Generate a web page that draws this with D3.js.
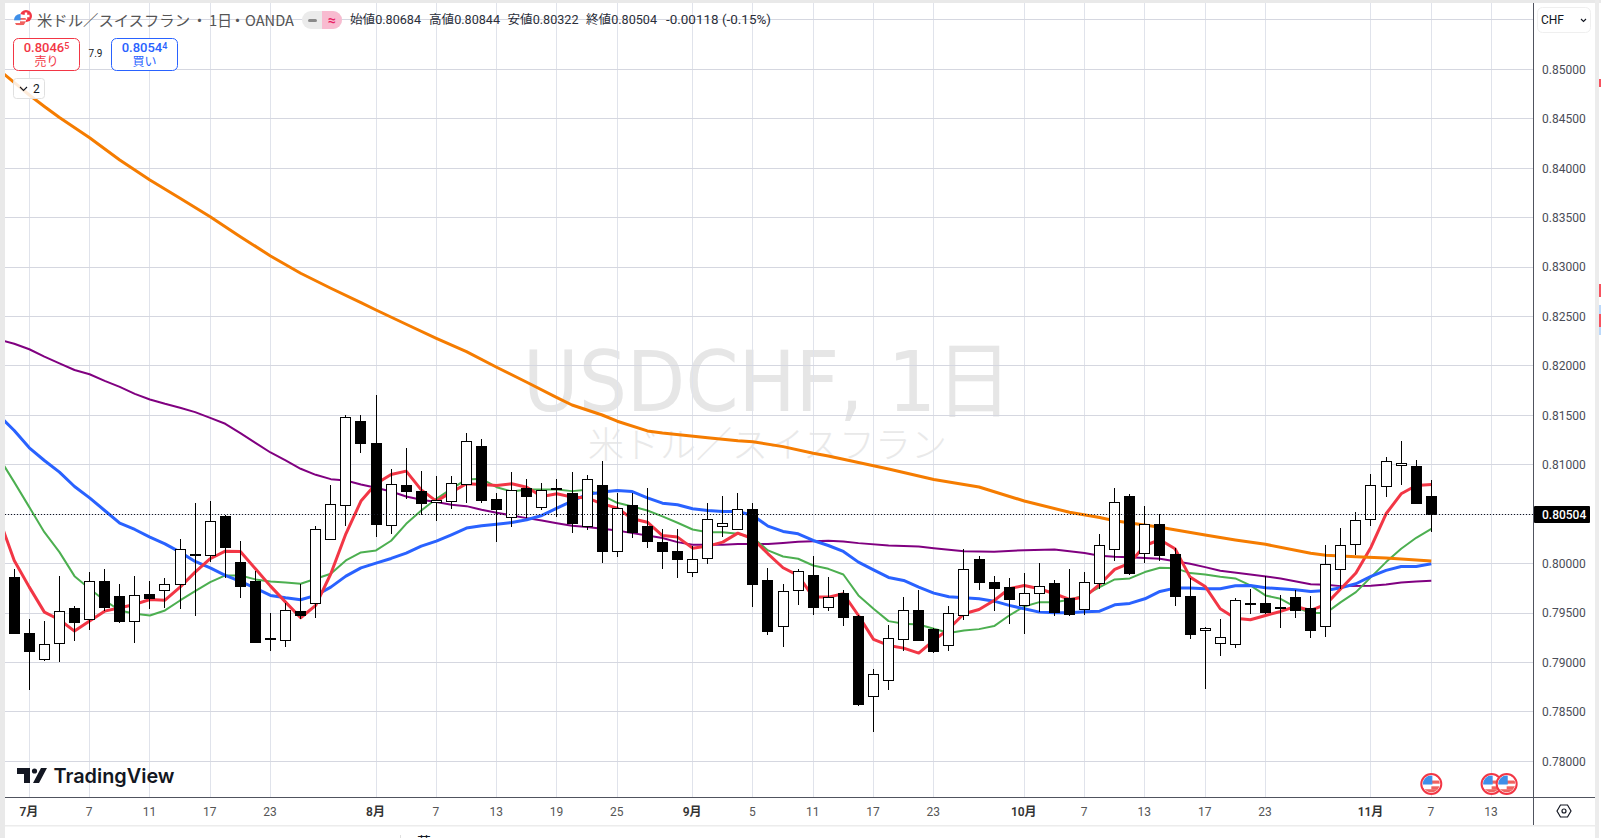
<!DOCTYPE html>
<html lang="ja"><head><meta charset="utf-8">
<script src="https://cdn.jsdelivr.net/npm/d3@7/dist/d3.min.js"></script>
<style>
html,body{margin:0;padding:0;background:#fff;overflow:hidden}
svg{display:block;font-family:Roboto,"Noto Sans CJK JP",sans-serif}
</style></head><body><svg id="c" width="1601" height="838"></svg>
<script>
// ---- candles, bar index -1 (30 Jun) to 93 (7 Nov)
const firstBar = -1;
const open = [.79860,.79300,.79037,.79199,.79553,.79442,.79826,.79674,.79422,.79695,.79735,.79796,.80099,.80089,.80477,.80018,.79826,.79243,.79229,.79523,.79604,.80251,.80595,.81444,.81222,.80392,
.80797,.80736,.80625,.80635,.80807,.81191,.80655,.80473,.80767,.80574,.80767,.80719,.80382,.80797,.80129,.80595,.80382,.80220,.80129,.79917,.80059,.80382,.80352,.80554,.79836,.79371,.79735,.79887,.79563,.79705,.79472,.78663,.78825,.79239,.79533,.79334,.79179,.79482,.80049,.79816,.79765,.79580,.79705,.79806,.79654,.79543,.79806,.80150,.80679,.80109,.80402,.80099,.79668,.79330,.79199,.79189,.79604,.79597,.79563,.79664,.79553,.79371,.79947,.80200,.80453,.80787,.80999,.80992,.80684];
const close = [.79297,.79115,.79189,.79523,.79408,.79826,.79560,.79418,.79684,.79651,.79796,.80150,.80089,.80433,.80166,.79772,.79206,.79236,.79533,.79482,.80352,.80605,.81485,.81222,.80399,.80807,
.80733,.80611,.80645,.80817,.81242,.80642,.80551,.80746,.80682,.80746,.80760,.80409,.80858,.80126,.80564,.80318,.80227,.80126,.80045,.80049,.80453,.80409,.80554,.79792,.79317,.79725,.79927,.79560,.79661,.79459,.78579,.78886,.79250,.79533,.79226,.79111,.79502,.79947,.79813,.79752,.79641,.79705,.79775,.79509,.79489,.79816,.80190,.80625,.79900,.80402,.80082,.79671,.79287,.79351,.79256,.79634,.79597,.79506,.79556,.79526,.79327,.79998,.80190,.80443,.80797,.81040,.81019,.80611,.80504];
const high = [.79941,.79435,.79415,.79870,.79566,.79910,.79941,.79789,.79870,.79819,.79850,.80244,.80608,.80638,.80487,.80224,.79920,.79496,.79604,.79789,.80376,.80790,.81508,.81508,.81710,.80959,
.81174,.80932,.80891,.80881,.81316,.81265,.80709,.80922,.80851,.80820,.80851,.80922,.80901,.81033,.80709,.80719,.80760,.80345,.80345,.80173,.80608,.80679,.80719,.80608,.79951,.79789,.79941,.80072,.79860,.79728,.79482,.78929,.79374,.79657,.79728,.79344,.79566,.80143,.80072,.79870,.79850,.79900,.80001,.79829,.79941,.79910,.80295,.80760,.80699,.80578,.80497,.80153,.79850,.79361,.79435,.79647,.79738,.79870,.79678,.79728,.79668,.80193,.80365,.80517,.80911,.81083,.81235,.81043,.80844];
const low = [.79297,.78717,.79010,.79000,.79216,.79324,.79519,.79398,.79196,.79536,.79546,.79536,.79465,.80015,.79850,.79647,.79206,.79115,.79152,.79442,.79445,.80251,.80376,.81117,.80264,.80295,
.80652,.80490,.80429,.80551,.80608,.80611,.80217,.80369,.80460,.80547,.80470,.80308,.80338,.80005,.80065,.80258,.80156,.79944,.79853,.79863,.79995,.80268,.80352,.79560,.79277,.79155,.79577,.79475,.79516,.79364,.78555,.78296,.78717,.79111,.79226,.79095,.79111,.79425,.79728,.79516,.79384,.79283,.79506,.79465,.79465,.79475,.79738,.80022,.79880,.80001,.80022,.79566,.79233,.78730,.79061,.79142,.79486,.79492,.79344,.79445,.79243,.79253,.79745,.80082,.80376,.80669,.80790,.80598,.80322];

// ---- moving averages, one value per bar from index -2 to 93
const maFirst = -2;
const maRed = [.80453,.80032,.79762,.79509,.79432,.79317,.79418,.79519,.79553,.79587,.79637,.79630,.79762,.79914,.80049,.80126,.80123,.79947,.79772,.79610,.79452,.79577,.79897,.80301,.80632,.80807,.80901,.80935,.80746,.80632,.80723,.80807,.80800,.80790,.80807,.80773,.80679,.80706,.80672,.80665,.80605,.80561,.80453,.80419,.80284,.80268,.80156,.80177,.80217,.80308,.80251,.80099,.79958,.79880,.79661,.79661,.79695,.79475,.79233,.79172,.79145,.79095,.79223,.79341,.79492,.79536,.79627,.79745,.79779,.79745,.79695,.79637,.79661,.79789,.79941,.80005,.80183,.80241,.80150,.79863,.79769,.79543,.79448,.79432,.79475,.79516,.79566,.79526,.79587,.79745,.79904,.80166,.80504,.80706,.80790,.80800];
const maGreen = [.81070,.80824,.80571,.80318,.80116,.79873,.79745,.79627,.79526,.79492,.79475,.79526,.79627,.79722,.79813,.79880,.79880,.79840,.79819,.79809,.79796,.79846,.79897,.80032,.80113,.80133,.80231,.80402,.80537,.80655,.80756,.80851,.80858,.80773,.80729,.80750,.80750,.80750,.80733,.80746,.80689,.80615,.80578,.80537,.80477,.80413,.80345,.80318,.80318,.80301,.80261,.80133,.80072,.80049,.79981,.79947,.79890,.79678,.79543,.79418,.79391,.79384,.79341,.79297,.79324,.79337,.79368,.79475,.79566,.79610,.79610,.79634,.79678,.79762,.79840,.79850,.79914,.79957,.79954,.79904,.79890,.79866,.79850,.79779,.79678,.79644,.79560,.79499,.79499,.79610,.79711,.79863,.80015,.80150,.80261,.80352];
const maBlue = [.81498,.81346,.81171,.81043,.80925,.80780,.80665,.80537,.80409,.80345,.80268,.80200,.80116,.80022,.79957,.79880,.79819,.79752,.79678,.79654,.79634,.79678,.79762,.79873,.79957,.80005,.80052,.80106,.80177,.80227,.80291,.80359,.80382,.80399,.80416,.80443,.80487,.80561,.80632,.80699,.80723,.80740,.80729,.80665,.80611,.80595,.80554,.80537,.80527,.80527,.80487,.80379,.80325,.80301,.80234,.80183,.80123,.80015,.79937,.79860,.79829,.79762,.79701,.79664,.79654,.79644,.79620,.79577,.79543,.79509,.79502,.79502,.79513,.79519,.79583,.79597,.79644,.79718,.79752,.79752,.79745,.79745,.79775,.79779,.79755,.79745,.79735,.79718,.79728,.79755,.79796,.79870,.79931,.79971,.79971,.79998];

// ---- slow moving averages, read at the bars listed
const purpleBars = [-2,-1,0,1,2,3,4,5,6,7,8,9,10,11,12,13,14,15,16,17,18,19,20,21,22,23,24,25,26,27,28,29,30,31,32,33,34,35,36,37,38,39,40,41,42,43,44,45,46,47,48,49,50,51,52,53,54,55,57,59,60,62,64,66,68,70,71,72,73,75,77,78,79,81,83,85,86,87,89,90,91,92,93];
const maPurple = [.82265,.82224,.82168,.82093,.82026,.81958,.81915,.81848,.81788,.81717,.81660,.81616,.81576,.81532,.81474,.81414,.81319,.81222,.81124,.81043,.80959,.80898,.80854,.80841,.80800,.80767,.80729,.80679,.80645,.80622,.80595,.80581,.80544,.80514,.80487,.80460,.80436,.80409,.80382,.80369,.80352,.80335,.80308,.80284,.80258,.80217,.80190,.80190,.80190,.80197,.80197,.80197,.80207,.80220,.80227,.80231,.80224,.80207,.80183,.80173,.80156,.80126,.80119,.80136,.80143,.80106,.80079,.80069,.80065,.80049,.79998,.79964,.79927,.79890,.79850,.79792,.79786,.79772,.79775,.79789,.79809,.79819,.79826];
const orangeBars = [-2,0,1,2,4,6,8,10,12,14,16,18,20,22,23,25,27,29,31,33,35,36,38,39,41,42,45,47,48,50,52,53,55,57,60,63,66,69,71,72,75,78,80,82,85,86,88,90,93];
const maOrange = [.84993,.84740,.84624,.84512,.84308,.84083,.83880,.83695,.83509,.83307,.83112,.82937,.82785,.82640,.82565,.82421,.82279,.82144,.81986,.81834,.81679,.81604,.81503,.81440,.81342,.81321,.81274,.81243,.81233,.81183,.81116,.81089,.81022,.80957,.80851,.80775,.80633,.80519,.80467,.80434,.80367,.80289,.80239,.80195,.80104,.80084,.80070,.80057,.80026];

// ---- axes
const priceTicks = d3.range(0,15).map(i => +(0.78 + i*0.005).toFixed(3));
const timeTickBars = [0,4,8,12,16,23,27,31,35,39,44,48,52,56,60,66,70,74,78,82,89,93,97];
const timeTickLabels = ["7月","7","11","17","23","8月","7","13","19","25","9月","5","11","17","23","10月","7","13","17","23","11月","7","13"];
const eventBars = [93,97,98];
const lastPrice = 0.80504;
const ohlcLabels = ["始値0.80684","高値0.80844","安値0.80322","終値0.80504","-0.00118 (-0.15%)"];

const x = d3.scaleLinear().domain([0,97]).range([29.3,1491.6]);
const y = d3.scaleLinear().domain([0.78,0.85]).range([761.3,69.3]);

const svg = d3.select("#c");
const defs = svg.append("defs");
defs.append("clipPath").attr("id","plot").append("rect").attr("x",5).attr("y",3).attr("width",1528).attr("height",794);

// page frame
svg.append("rect").attr("width",1601).attr("height",838).attr("fill","#fff");

// watermark
svg.append("text").text("USDCHF, 1日").attr("x",523).attr("y",411).attr("font-size",84)
  .attr("font-family","'DejaVu Sans','Noto Sans CJK JP',sans-serif")
  .attr("textLength",489).attr("lengthAdjust","spacingAndGlyphs").attr("fill","#e6e6e6");
svg.append("text").text("米ドル／スイスフラン").attr("x",588).attr("y",458).attr("font-size",36)
  .attr("font-family","'Noto Sans CJK JP',sans-serif").attr("font-weight",300).attr("fill","#e9e9e9");

// grid
const grid = svg.append("g");
grid.selectAll("line.v").data(timeTickBars).join("line").attr("class","v")
  .attr("x1",d=>Math.floor(x(d))+.5).attr("x2",d=>Math.floor(x(d))+.5).attr("y1",3).attr("y2",797)
  .attr("stroke","#e0e3eb").attr("stroke-width",1);
grid.selectAll("line.h").data(priceTicks.concat([0.855])).join("line").attr("class","h")
  .attr("x1",5).attr("x2",1533).attr("y1",d=>Math.floor(y(d))+.5).attr("y2",d=>Math.floor(y(d))+.5)
  .attr("stroke","#d5d7e0").attr("stroke-width",1);

const plot = svg.append("g").attr("clip-path","url(#plot)");

// moving averages
const line = d3.line().x(d=>x(d[0])).y(d=>y(d[1]));
const seq = a => a.map((v,i)=>[maFirst+i,v]);
const pair = (b,a) => a.map((v,i)=>[b[i],v]);
[[pair(purpleBars,maPurple),"#800080",2],
 [seq(maGreen),"#4caf50",2],
 [seq(maBlue),"#2962ff",3],
 [seq(maRed),"#f23645",3],
 [pair(orangeBars,maOrange),"#f57c00",3]].forEach(([d,c,w])=>{
  plot.append("path").attr("d",line(d)).attr("fill","none").attr("stroke",c).attr("stroke-width",w).attr("stroke-linejoin","round");
});

// candles
const bars = open.map((o,i)=>({i:firstBar+i,o,c:close[i],h:high[i],l:low[i]}));
const cx = d=>Math.floor(x(d.i))+.5;
const candle = plot.selectAll("g.k").data(bars).join("g").attr("class","k").attr("shape-rendering","crispEdges");
candle.append("line").attr("x1",cx).attr("x2",cx).attr("y1",d=>Math.round(y(d.h))).attr("y2",d=>Math.round(y(d.l)))
  .attr("stroke","#000").attr("stroke-width",1);
candle.append("rect").attr("x",d=>cx(d)-5).attr("width",10)
  .attr("y",d=>Math.round(y(Math.max(d.o,d.c)))+.5)
  .attr("height",d=>Math.max(1,Math.round(y(Math.min(d.o,d.c)))-Math.round(y(Math.max(d.o,d.c)))))
  .attr("fill",d=>d.c>=d.o?"#fff":"#000").attr("stroke","#000").attr("stroke-width",1);

// last price dotted line
plot.append("line").attr("x1",5).attr("x2",1533).attr("y1",Math.round(y(lastPrice))+.5).attr("y2",Math.round(y(lastPrice))+.5)
  .attr("stroke","#131722").attr("stroke-width",1).attr("stroke-dasharray","1 2").attr("shape-rendering","crispEdges");

// side strips
svg.append("rect").attr("width",1601).attr("height",3).attr("fill","#e9e9e9");
svg.append("rect").attr("y",0).attr("width",5).attr("height",838).attr("fill","#e9e9e9");
svg.append("rect").attr("x",1595).attr("width",4).attr("height",838).attr("fill","#ececec");
[[79,8,"#f7525f"],[284,13,"#f7525f"],[305,30,"#bbd9fb"],[314,13,"#f7525f"]].forEach(([t,h,c])=>{
  svg.append("rect").attr("x",1599).attr("y",t).attr("width",2).attr("height",h).attr("fill",c);
});

// price axis
const axisColor = "#50535e";
const ya = svg.append("g").attr("transform","translate(1533,0)")
  .call(d3.axisRight(y).tickValues(priceTicks).tickFormat(d3.format(".5f")).tickSize(0).tickPadding(9));
ya.select(".domain").remove();
ya.selectAll("text").attr("font-size",12).attr("font-family","Roboto,sans-serif").attr("fill","#4a4d57");
svg.append("line").attr("x1",1533.5).attr("x2",1533.5).attr("y1",3).attr("y2",825).attr("stroke",axisColor);

// time axis
const xa = svg.append("g").attr("transform","translate(-1,797)")
  .call(d3.axisBottom(x).tickValues(timeTickBars).tickFormat((d,i)=>timeTickLabels[i]).tickSize(0).tickPadding(10));
xa.select(".domain").remove();
xa.selectAll("text").attr("font-size",12).attr("font-family","Roboto,'Noto Sans CJK JP',sans-serif")
  .attr("fill",(d,i)=>/月/.test(timeTickLabels[i])?"#333":"#555")
  .attr("font-weight",(d,i)=>/月/.test(timeTickLabels[i])?600:400);
svg.append("line").attr("x1",5).attr("x2",1595).attr("y1",797.5).attr("y2",797.5).attr("stroke",axisColor);
svg.append("rect").attr("x",5).attr("y",825).attr("width",1590).attr("height",1.5).attr("fill","#ececec");
svg.append("line").attr("x1",400.5).attr("x2",400.5).attr("y1",835).attr("y2",838).attr("stroke","#e0e0e0");
svg.append("text").text("英").attr("x",417).attr("y",847).attr("font-size",14)
  .attr("font-family","'Noto Sans CJK JP',sans-serif").attr("fill","#131722");

// settings icon
svg.append("path").attr("d","M1557 811l3.5-6h7l3.5 6-3.5 6h-7z").attr("fill","none").attr("stroke","#131722").attr("stroke-width",1.2);
svg.append("circle").attr("cx",1564).attr("cy",811).attr("r",2).attr("fill","none").attr("stroke","#131722").attr("stroke-width",1.2);

// last price label
svg.append("rect").attr("x",1534).attr("y",506).attr("width",56).attr("height",17).attr("fill","#000").attr("rx",1);
svg.append("text").text(d3.format(".5f")(lastPrice)).attr("x",1542).attr("y",519).attr("font-size",12).attr("fill","#fff").attr("font-weight",500);

// flags
function flag(g,cxv,cyv,r,ring){
  const id="f"+Math.round(cxv)+"_"+Math.round(cyv);
  defs.append("clipPath").attr("id",id).append("circle").attr("cx",cxv).attr("cy",cyv).attr("r",r-(ring?2:0));
  const f=g.append("g");
  if(ring) f.append("circle").attr("cx",cxv).attr("cy",cyv).attr("r",r-.5).attr("fill","#fff").attr("stroke","#f23645").attr("stroke-width",2);
  const inner=f.append("g").attr("clip-path",`url(#${id})`);
  inner.append("rect").attr("x",cxv-r).attr("y",cyv-r).attr("width",2*r).attr("height",2*r).attr("fill","#fff");
  [-.2,.35].forEach(t=>inner.append("rect").attr("x",cxv).attr("y",cyv+t*r-r*.13).attr("width",r).attr("height",r*.3).attr("fill","#f0625f"));
  inner.append("rect").attr("x",cxv-r).attr("y",cyv+.5*r).attr("width",2*r).attr("height",r*.35).attr("fill","#f0625f");
  inner.append("rect").attr("x",cxv-r).attr("y",cyv-r).attr("width",r*1.1).attr("height",r*1.05).attr("fill","#3f8fe8");
}
const flags = svg.append("g");
eventBars.forEach(b=>flag(flags,x(b),784,10.5,true));

// TradingView logo
const logo = svg.append("g").attr("fill","#131722");
logo.append("path").attr("d","M17 768h13v15h-6v-9h-7z");
logo.append("circle").attr("cx",34.5).attr("cy",771).attr("r",2.6);
logo.append("path").attr("d","M41 768h6l-8 15h-6z");
logo.append("text").text("TradingView").attr("x",53.5).attr("y",783).attr("font-family","Inter,sans-serif")
  .attr("font-size",20).attr("font-weight",600).attr("textLength",121).attr("lengthAdjust","spacingAndGlyphs");

// header legend: base and quote currency icon
svg.append("circle").attr("cx",26).attr("cy",16).attr("r",6).attr("fill","#f23645");
svg.append("path").attr("d","M24.8 12.5h2.4v2.3h2.3v2.4h-2.3v2.3h-2.4v-2.3h-2.3v-2.4h2.3z").attr("fill","#fff");
flag(svg.append("g"),20,20,6,false);
const titleParts = ["米ドル／スイスフラン","・","1日","・","OANDA"];
const titleX = [37,192,209,230,245];
const titleW = [153,15,23,15,49];
titleParts.forEach((t,i)=>{
  svg.append("text").text(t).attr("x",titleX[i]).attr("y",25.5).attr("font-size",15)
   .attr("font-family","'Noto Sans CJK JP',sans-serif").attr("fill","#555")
   .attr("textLength",titleW[i]).attr("lengthAdjust","spacingAndGlyphs");
});
svg.append("rect").attr("x",302).attr("y",11).attr("width",40).attr("height",18).attr("rx",9).attr("fill","#ebebeb");
svg.append("path").attr("d","M322 11h11a9 9 0 0 1 0 18h-11z").attr("fill","#f8bbd0");
svg.append("rect").attr("x",308).attr("y",19).attr("width",9).attr("height",3).attr("rx",1.5).attr("fill","#8a8a8a");
svg.append("text").text("≈").attr("x",332).attr("y",25).attr("text-anchor","middle").attr("font-size",14).attr("font-weight",700).attr("fill","#e91e63");
[350,429,507.5,586,666].forEach((px,i)=>{
  svg.append("text").text(ohlcLabels[i]).attr("x",px).attr("y",24).attr("font-size",12)
   .attr("font-family","Roboto,'Noto Sans CJK JP',sans-serif").attr("fill","#2a2e39")
   .attr("textLength",i<4?71:105).attr("lengthAdjust","spacingAndGlyphs");
});

// quote boxes
function quote(px,color,main,sup,label){
  svg.append("rect").attr("x",px+.5).attr("y",38.5).attr("width",66).attr("height",32).attr("rx",5).attr("fill","#fff").attr("stroke",color);
  const t=svg.append("text").attr("x",px+33.5).attr("y",52).attr("text-anchor","middle").attr("font-size",13).attr("fill",color).attr("font-weight",500);
  t.append("tspan").text(main);
  t.append("tspan").text(sup).attr("font-size",9).attr("dy",-3);
  svg.append("text").text(label).attr("x",px+33.5).attr("y",66).attr("text-anchor","middle").attr("font-size",12)
    .attr("font-family","'Noto Sans CJK JP',sans-serif").attr("fill",color);
}
quote(13,"#f23645","0.8046","5","売り");
quote(111,"#2962ff","0.8054","4","買い");
svg.append("text").text("7.9").attr("x",95.5).attr("y",57).attr("text-anchor","middle").attr("font-size",10).attr("fill","#131722");

// collapse button
svg.append("rect").attr("x",13.5).attr("y",78.5).attr("width",31).attr("height",20).attr("rx",3).attr("fill","#fff").attr("fill-opacity",.85).attr("stroke","#e0e0e0");
svg.append("path").attr("d","M20 87l3.5 3.5 3.5-3.5").attr("fill","none").attr("stroke","#131722").attr("stroke-width",1.1);
svg.append("text").text("2").attr("x",33).attr("y",93).attr("font-size",12).attr("fill","#131722");

// currency selector
svg.append("rect").attr("x",1537.5).attr("y",7.5).attr("width",53).attr("height",25).attr("rx",5).attr("fill","#fff").attr("stroke","#efefef");
svg.append("text").text("CHF").attr("x",1541).attr("y",24).attr("font-size",12).attr("fill","#131722");
svg.append("path").attr("d","M1581 19l2.5 2.5 2.5-2.5").attr("fill","none").attr("stroke","#131722").attr("stroke-width",1.1);
</script></body></html>
